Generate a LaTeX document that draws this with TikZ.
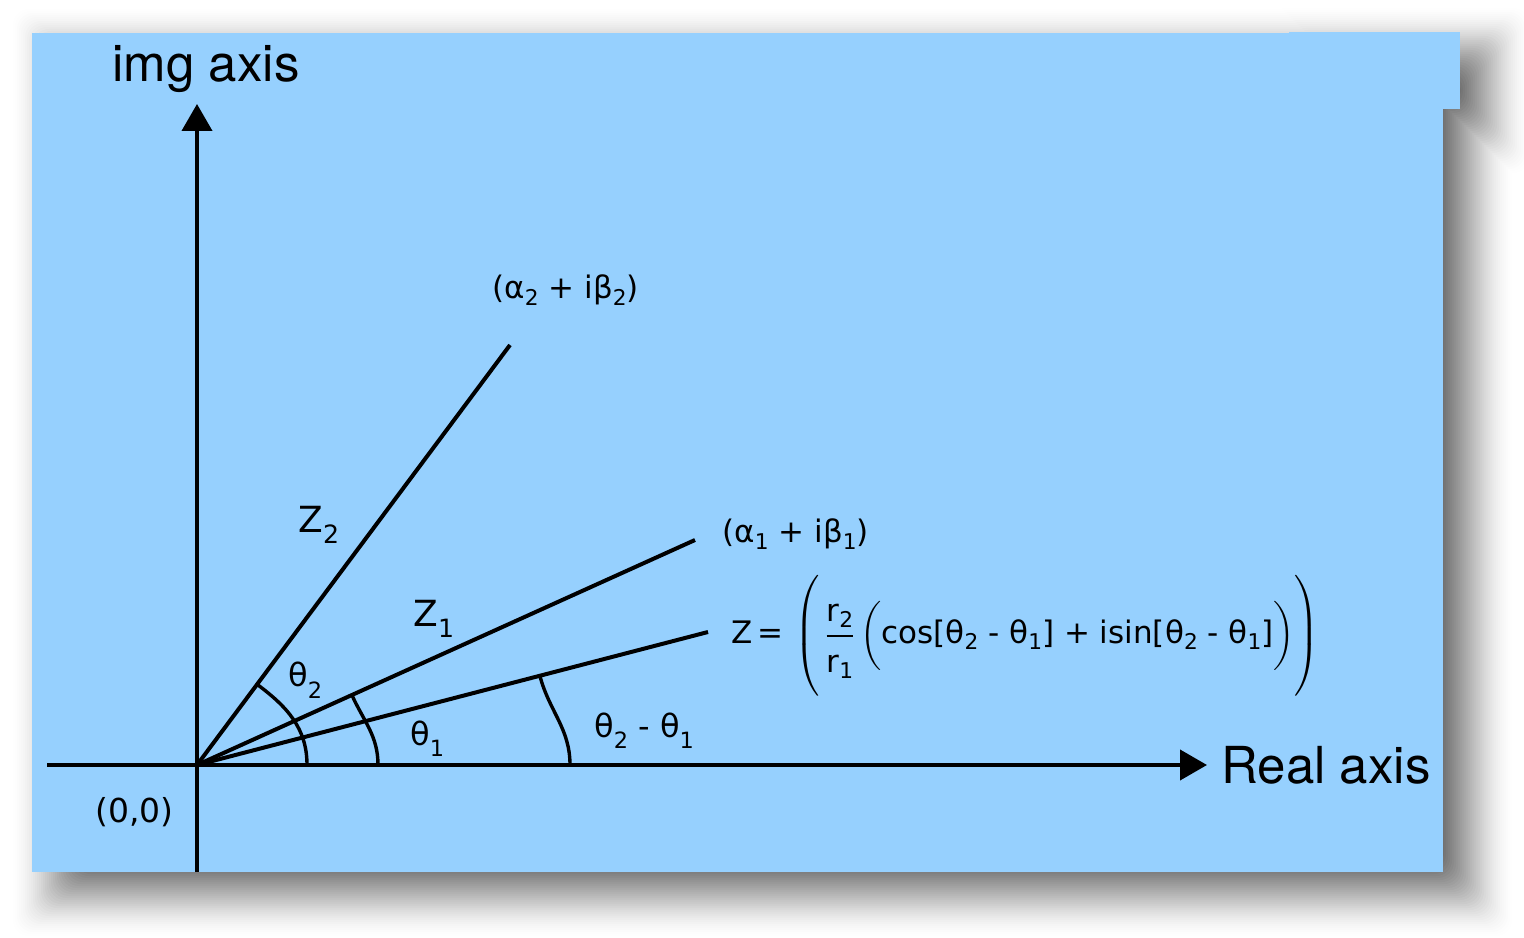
\documentclass[tikz,border=0pt]{standalone}
\usepackage{amsmath}
\usepackage{fontspec}
\setmainfont{DejaVu Sans}
\newfontfamily\axisfont{TeX Gyre Heros}
\usetikzlibrary{arrows.meta, calc, positioning}
\definecolor{planeblue}{RGB}{150,208,254}
\newcommand{\lowsub}[2][0.3em]{\raisebox{-#1}{\scalebox{0.7}{#2}}}

\begin{document}
\begin{tikzpicture}[x=0.5pt, y=0.5pt, >={Triangle[length=13.5pt, width=15pt]},
  axis/.style={line width=2pt},
  ray/.style={line width=2pt},
  ang/.style={line width=1.7pt},
  lbl/.style={inner sep=0pt, font=\fontsize{15.5}{19}\selectfont},
  zlbl/.style={inner sep=0pt, font=\fontsize{18}{22}\selectfont},
  tlbl/.style={inner sep=0pt, font=\fontsize{16}{19}\selectfont},
  big/.style={inner sep=0pt, font=\axisfont\fontsize{25.5}{30}\selectfont}]

\useasboundingbox (0,0) rectangle (1524,937);
\fill[white] (0,0) rectangle (1524,937);

% soft shadow under the plane
\foreach \d [evaluate=\d as \op using 0.004+0.0005*(44-\d)] in {44,42,...,-40}
  \fill[black, opacity=\op, rounded corners=8pt]
    (57-\d,45-\d) rectangle (1468+\d,884+\d)
    (1314-\d,808-\d) rectangle (1485+\d,885+\d);

\fill[planeblue] (32,65) rectangle (1443,904);
\fill[planeblue] (1289,828) rectangle (1460,905);

\coordinate (O) at (197,172);
\coordinate (xstart) at (47,172);
\coordinate (xtip) at (1207,172);
\coordinate (ystart) at (197,65);
\coordinate (ytip) at (197,833);
\coordinate (Z2end) at (510,592);
\coordinate (Z1end) at (695,397);
\coordinate (Zend) at (708,305);

\coordinate (a2start) at ($(O)!0.192!(Z2end)$);
\coordinate (a2end) at (307,172);
\coordinate (a1start) at ($(O)!0.311!(Z1end)$);
\coordinate (a1end) at (378,172);
\coordinate (adstart) at ($(O)!0.671!(Zend)$);
\coordinate (adend) at (570,172);

\draw[axis, ->] (xstart) -- (xtip);
\draw[axis, ->] (ystart) -- (ytip);

\draw[ray] (O) -- (Z2end);
\draw[ray] (O) -- (Z1end);
\draw[ray] (O) -- (Zend);

\draw[ang] (a2start) to[out=-36.7, in=90] (a2end);
\draw[ang] (a1start) to[out=-65.7, in=90] (a1end);
\draw[ang] (adstart) to[out=-75.4, in=90] (adend);

\node[big, above=5.5pt of ytip, xshift=4.5pt] (imglbl) {img axis};
\node[big, right=7pt of xtip] (reallbl) {Real axis};
\node[lbl, font=\fontsize{16.5}{19}\selectfont, below left=16pt and 11.5pt of O] (originlbl) {(0,0)};

\node[lbl, anchor=base west] (p2lbl) at (492,638) {(α\lowsub[0.22em]{2} + iβ\lowsub[0.22em]{2})};
\node[lbl, anchor=base west] (p1lbl) at (722,394) {(α\lowsub[0.22em]{1} + iβ\lowsub[0.22em]{1})};

\node[zlbl, anchor=base west] (z2lbl) at (298,404) {Z\lowsub{2}};
\node[zlbl, anchor=base west] (z1lbl) at (413,310) {Z\lowsub{1}};

\node[tlbl, anchor=base west] (t2lbl) at (288,250) {θ\lowsub[0.35em]{2}};
\node[tlbl, anchor=base west] (t1lbl) at (410,192) {θ\lowsub[0.35em]{1}};
\node[tlbl, anchor=base west] (tdlbl) at (594,200) {θ\lowsub[0.35em]{2} - θ\lowsub[0.35em]{1}};

\node[lbl, anchor=west] (zformula) at (731,301)
  {Z\,=\,\,$\left(\vcenter{\hbox{\rule{0pt}{62pt}}}\,\dfrac{\text{r\lowsub[0.2em]{2}\rule[-0.35em]{0pt}{0pt}}}{\text{\rule{0pt}{1.05em}r\lowsub[0.2em]{1}}}\left(\vcenter{\hbox{\rule{0pt}{34pt}}}\text{cos[θ\lowsub[0.2em]{2} - θ\lowsub[0.2em]{1}] + isin[θ\lowsub[0.2em]{2} - θ\lowsub[0.2em]{1}]}\right)\right)$};

\end{tikzpicture}
\end{document}
